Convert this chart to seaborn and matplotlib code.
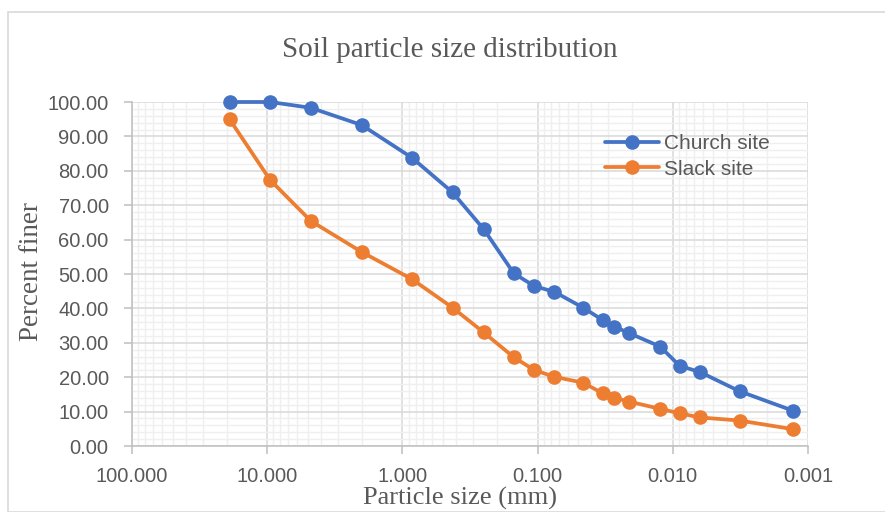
import numpy as np
import pandas as pd
import matplotlib
matplotlib.use("Agg")
import matplotlib.pyplot as plt
import matplotlib.ticker as mticker
from matplotlib.patches import Rectangle
import seaborn as sns

# ---- data ----
particle_size_mm = [19.0, 9.5, 4.75, 2.0, 0.85, 0.425, 0.25, 0.15, 0.106, 0.075,
                    0.046, 0.033, 0.027, 0.021, 0.0124, 0.0089, 0.0063, 0.0032, 0.0013]
church_pct = [100.0, 100.0, 98.3, 93.3, 83.8, 73.7, 63.0, 50.2, 46.5, 44.8,
              40.2, 36.6, 34.7, 32.8, 28.9, 23.3, 21.5, 15.9, 10.3]
slack_pct = [95.0, 77.3, 65.4, 56.4, 48.5, 40.2, 33.0, 25.8, 22.1, 20.1,
             18.4, 15.3, 14.0, 12.9, 10.8, 9.5, 8.3, 7.4, 4.9]
series_names = ["Church site", "Slack site"]
title_text = "Soil particle size distribution"
x_label = "Particle size (mm)"
y_label = "Percent finer"
x_ticks = [100, 10, 1, 0.1, 0.01, 0.001]
y_ticks = [0, 10, 20, 30, 40, 50, 60, 70, 80, 90, 100]

df = pd.concat([
    pd.DataFrame({"size": particle_size_mm, "pct": church_pct, "site": series_names[0]}),
    pd.DataFrame({"size": particle_size_mm, "pct": slack_pct, "site": series_names[1]}),
], ignore_index=True)

sns.set_style("white")
plt.rcParams["font.family"] = ["Liberation Sans", "DejaVu Sans"]

TXT = "#595959"
fig = plt.figure(figsize=(8.85, 5.12), dpi=100)
ax = fig.add_axes([132/885, 1-446/512, (808-132)/885, (446-102)/512])

# figure border
fig.patches.append(Rectangle((8/885, 0), 1, 1-11.5/512, transform=fig.transFigure,
                             fill=False, edgecolor="#D9D9D9", linewidth=1.2, zorder=0))

sns.lineplot(data=df, x="size", y="pct", hue="site", hue_order=series_names,
             palette=["#4472C4", "#ED7D31"], marker="o", markersize=10.5,
             markeredgewidth=0, linewidth=2.7, sort=False, estimator=None,
             ax=ax, zorder=5, clip_on=False)

ax.set_xscale("log")
ax.set_xlim(100, 0.001)
ax.set_ylim(0, 100)
ax.xaxis.set_major_locator(mticker.FixedLocator(x_ticks))
ax.xaxis.set_major_formatter(mticker.FuncFormatter(lambda v, p: f"{v:.3f}"))
ax.xaxis.set_minor_locator(mticker.LogLocator(base=10, subs=np.arange(2, 10), numticks=20))
ax.xaxis.set_minor_formatter(mticker.NullFormatter())
ax.yaxis.set_major_locator(mticker.FixedLocator(y_ticks))
ax.yaxis.set_major_formatter(mticker.FuncFormatter(lambda v, p: f"{v:.2f}"))
ax.yaxis.set_minor_locator(mticker.MultipleLocator(2))

ax.grid(which="major", color="#D9D9D9", linewidth=1.1, zorder=0)
ax.grid(which="minor", color="#EFEFEF", linewidth=1.0, zorder=0)
ax.set_axisbelow(True)

for s in ["top", "right"]:
    ax.spines[s].set_visible(False)
for s in ["left", "bottom"]:
    ax.spines[s].set_color("#BFBFBF")
    ax.spines[s].set_linewidth(1.1)

ax.tick_params(axis="both", which="major", labelsize=14.5, labelcolor=TXT,
               color="#BFBFBF", length=5.8, width=1.1, direction="out")
ax.tick_params(axis="x", which="major", pad=9, bottom=True)
ax.tick_params(axis="y", which="major", pad=11, left=True)
ax.tick_params(axis="both", which="minor", length=0)

ax.set_xlabel("")
ax.set_ylabel("")
serif = ["Liberation Serif", "DejaVu Serif"]
fig.text(460/885, 1-498/512, x_label, ha="center", va="center", fontsize=19,
         color=TXT, family=serif)
fig.text(31/885, 1-272/512, y_label, ha="center", va="center", fontsize=19.5,
         color=TXT, family=serif, rotation=90)
fig.text(449.5/885, 1-50/512, title_text, ha="center", va="center", fontsize=21,
         color=TXT, family=serif)

handles, labels = ax.get_legend_handles_labels()
leg = ax.legend(handles, labels, loc="upper left", bbox_to_anchor=(0.687, 0.93),
                frameon=False, fontsize=15, handlelength=2.6, handletextpad=0.25,
                labelspacing=0.3, borderaxespad=0)
for t in leg.get_texts():
    t.set_color(TXT)

fig.savefig("out.png", dpi=100)
